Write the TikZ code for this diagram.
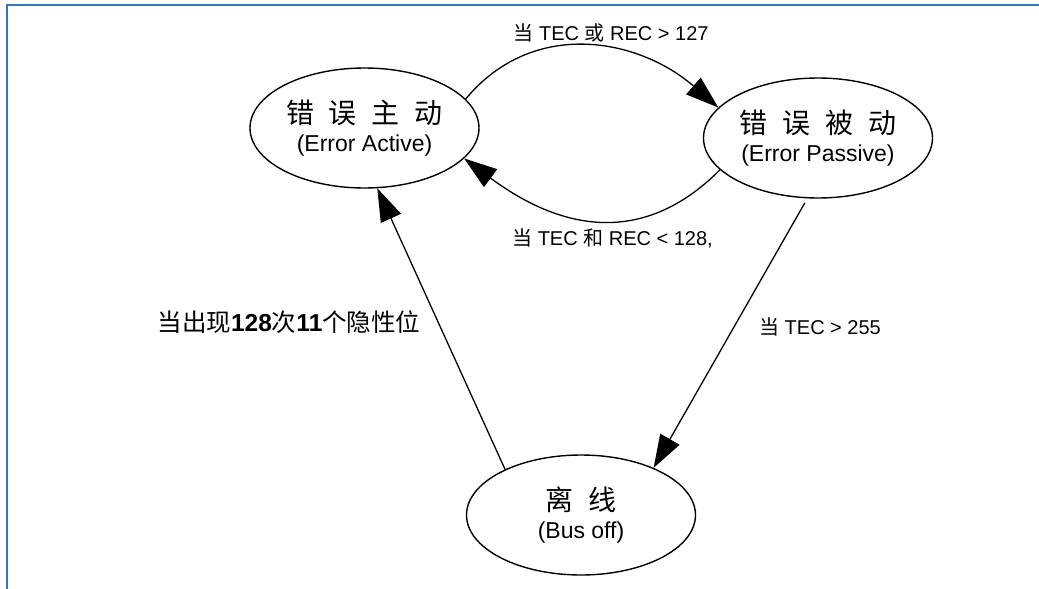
\documentclass[tikz,border=0pt]{standalone}
\usepackage{fontspec}
\setmainfont{Liberation Sans}
\newfontfamily\cjk{Noto Sans CJK SC}
\usetikzlibrary{shapes.geometric,arrows.meta}
\definecolor{framec}{RGB}{52,120,185}
\newcommand\cjt[1]{{\cjk\fontsize{28}{27.5}\selectfont #1}}
\newcommand\cjs[1]{{\cjk #1}}
\begin{document}
\begin{tikzpicture}[x=1pt,y=-1pt,
  state/.style={ellipse,draw,line width=1.4pt,minimum width=229pt,minimum height=120pt,inner sep=0pt,align=center,font=\fontsize{23}{27.5}\selectfont},
  conn/.style={line width=1.3pt,-{Triangle[length=33pt,width=22pt]}},
  lab/.style={font=\fontsize{20}{24}\selectfont,inner sep=0pt},
  frameline/.style={draw=framec,line width=2pt}]
\fill[white] (0,0) rectangle (1039,589);
\useasboundingbox (0,0) rectangle (1039,589);
\draw[frameline] (7,589) -- (7,5) -- (1039,5);

\node[state] (ea) at (364.5,128) {\cjt{错\hspace{15pt}误\hspace{15pt}主\hspace{15pt}动}\\(Error Active)};
\node[state] (ep) at (818,138) {\cjt{错\hspace{15pt}误\hspace{15pt}被\hspace{15pt}动}\\(Error Passive)};
\node[state] (bo) at (581,515) {\cjt{离\hspace{15pt}线}\\(Bus off)};

\draw[conn] (ea.16) .. controls (533,18) and (638,38) .. (ep.163);
\draw[conn] (ep.198) .. controls (639,251) and (555,226) .. (ea.343);
\draw[conn] (bo.149) -- (ea.282);
\draw[conn,shorten <=5pt] (ep.260) -- (bo.33);

\node[lab] (l1) at (611,33) {\cjs{当} TEC \cjs{或} REC > 127};
\node[lab] (l2) at (612.5,238) {\cjs{当} TEC \cjs{和} REC < 128,};
\node[lab] (l4) at (820,327) {\cjs{当} TEC > 255};
\node[lab,font=\fontsize{24.5}{28}\selectfont] (l3) at (289,322) {\cjs{当出现}\textbf{128}\cjs{次}\textbf{11}\cjs{个隐性位}};
\end{tikzpicture}
\end{document}
